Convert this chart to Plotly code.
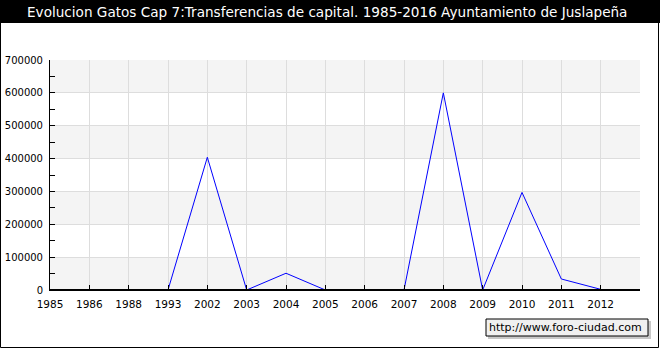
import plotly.graph_objects as go

years = ["1985", "1986", "1988", "1993", "2002", "2003", "2004", "2005",
         "2006", "2007", "2008", "2009", "2010", "2011", "2012"]
values = [0, 0, 0, 0, 404000, 0, 51000, 0, 0, 0, 600000, 0, 297000, 33500, 2000]
y_ticks = [0, 100000, 200000, 300000, 400000, 500000, 600000, 700000]
title = "Evolucion Gatos Cap 7:Transferencias de capital. 1985-2016 Ayuntamiento de Juslapeña"
watermark = "http://www.foro-ciudad.com"

W, H = 660, 350
L, R, T, B = 50, 20, 60, 60
PW, PH = W - L - R, H - T - B

def px(x):
    return (x - L) / PW

def py(y):
    return (H - B - y) / PH

fig = go.Figure()
fig.add_trace(go.Scatter(x=years, y=values, mode="lines",
                         line=dict(color="#0000ff", width=1), hoverinfo="skip"))

shapes = []
# alternating bands
for i in range(0, len(y_ticks) - 1, 2):
    shapes.append(dict(type="rect", xref="paper", yref="y", x0=0, x1=1,
                       y0=y_ticks[i], y1=y_ticks[i + 1], fillcolor="#f4f4f4",
                       line=dict(width=0), layer="below"))
# title bar
shapes.append(dict(type="rect", xref="paper", yref="paper", x0=px(-2), x1=px(W + 2),
                   y0=py(23), y1=py(-2), fillcolor="#000000", line=dict(width=0)))
# border
shapes.append(dict(type="rect", xref="paper", yref="paper", x0=px(0.5), x1=px(658.5),
                   y0=py(347.5), y1=py(0.5), line=dict(color="#000000", width=1)))
# watermark shadow and box
shapes.append(dict(type="rect", xref="paper", yref="paper", x0=px(488), x1=px(651),
                   y0=py(339), y1=py(321), fillcolor="#c8c8c8", line=dict(width=0)))
shapes.append(dict(type="rect", xref="paper", yref="paper", x0=px(486), x1=px(648),
                   y0=py(336), y1=py(319), fillcolor="#f0f0f0",
                   line=dict(color="#000000", width=1)))
# bottom axis line drawn over the trace
shapes.append(dict(type="line", xref="paper", yref="y", x0=0, x1=1, y0=0, y1=0,
                   line=dict(color="#000000", width=2), layer="above"))

annotations = [
    dict(text=title, xref="paper", yref="paper", x=px(327), y=py(12), showarrow=False,
         xanchor="center", yanchor="middle",
         font=dict(family="DejaVu Sans", size=13.6, color="#ffffff")),
    dict(text=watermark, xref="paper", yref="paper", x=px(565), y=py(327.5), showarrow=False,
         xanchor="center", yanchor="middle",
         font=dict(family="DejaVu Sans", size=11, color="#000000")),
]

fig.update_layout(
    width=W, height=H,
    margin=dict(l=L, r=R, t=T, b=B),
    paper_bgcolor="#ffffff", plot_bgcolor="#ffffff",
    showlegend=False,
    shapes=shapes, annotations=annotations,
    font=dict(family="DejaVu Sans", size=10, color="#000000"),
)
fig.update_xaxes(type="category", range=[0, 15], showgrid=True, gridcolor="#dddddd",
                 gridwidth=1, ticks="inside", ticklen=5, tickcolor="#000000",
                 showline=True, linecolor="#000000", linewidth=1, zeroline=False,
                 ticklabelstandoff=4, automargin=False,
                 tickfont=dict(family="DejaVu Sans", size=10.5))
fig.update_yaxes(range=[0, 700000], tickvals=y_ticks, ticktext=[str(v) for v in y_ticks],
                 showgrid=True, gridcolor="#dddddd", gridwidth=1,
                 ticks="inside", ticklen=5, tickcolor="#000000",
                 minor=dict(dtick=50000, tick0=0, ticks="inside", ticklen=5,
                            tickcolor="#000000", showgrid=False),
                 showline=True, linecolor="#000000", linewidth=1, zeroline=False,
                 ticklabelstandoff=4, automargin=False,
                 tickfont=dict(family="DejaVu Sans", size=10))

fig.write_html("out.html")
